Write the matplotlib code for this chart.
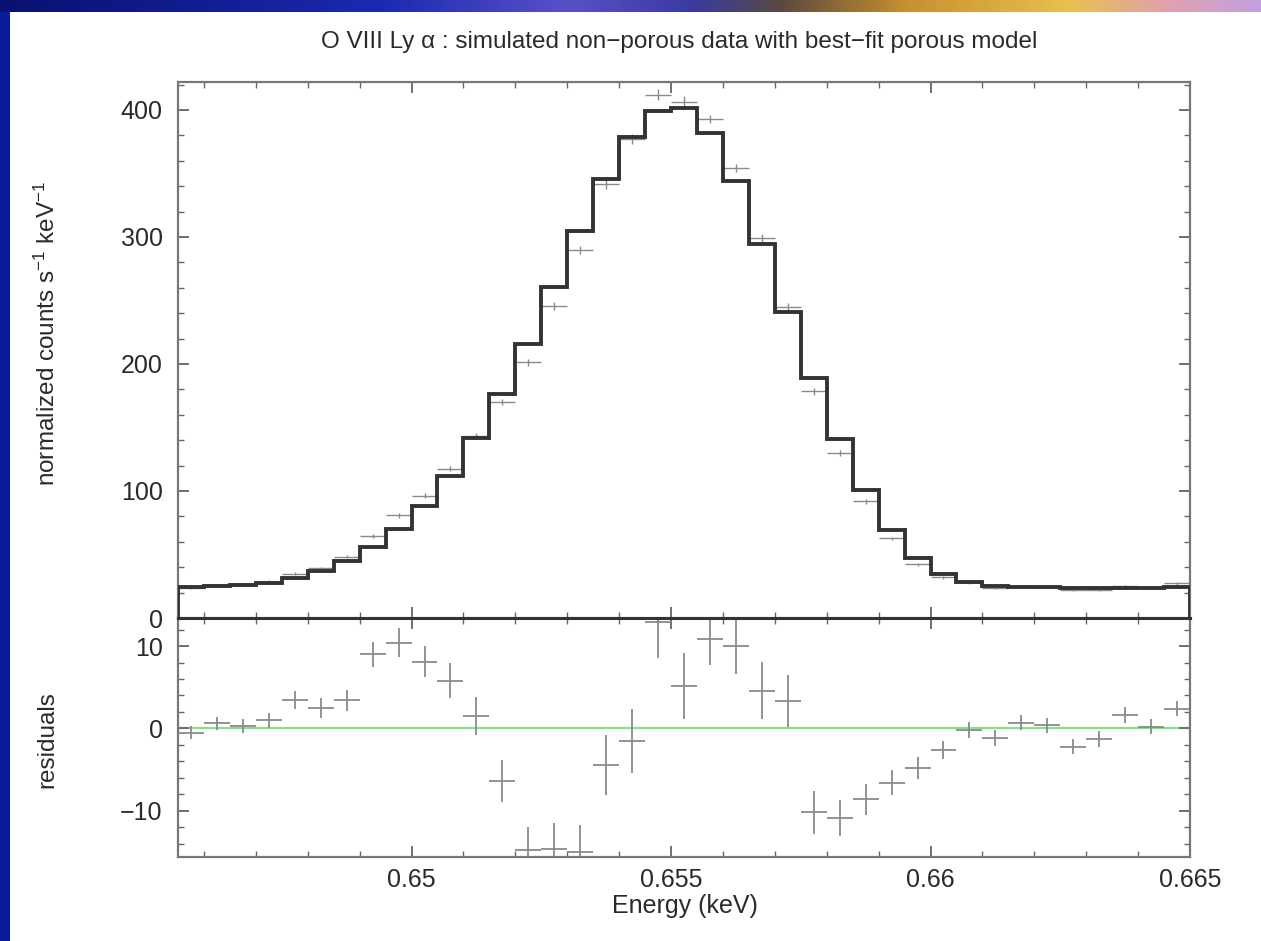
import numpy as np
import matplotlib
matplotlib.use("Agg")
import matplotlib.pyplot as plt
from matplotlib.colors import LinearSegmentedColormap
from matplotlib.patches import Rectangle
from matplotlib.ticker import MultipleLocator

plt.rcParams['font.family'] = ['Liberation Sans', 'DejaVu Sans']
plt.rcParams['mathtext.fontset'] = 'custom'
plt.rcParams['mathtext.rm'] = 'Liberation Sans'
plt.rcParams['mathtext.it'] = 'Liberation Sans:italic'

# energy grid (keV): 39 bins of 0.5 eV
BIN_START = 0.6455
BIN_WIDTH = 0.0005

# best-fit porous model, normalized counts s^-1 keV^-1 per bin
model = [24.5, 25.0, 26.0, 27.7, 31.3, 36.7, 44.9, 55.7, 70.3, 88.2,
         111.8, 141.6, 176.4, 216.0, 260.4, 304.9, 345.8, 378.9, 399.2, 401.4,
         381.6, 344.2, 294.3, 241.2, 188.8, 140.8, 100.4, 69.2, 47.2, 34.6,
         28.3, 25.0, 24.5, 24.3, 24.0, 23.6, 23.5, 24.0, 24.8]

# residuals (data - model) and their 1-sigma errors
resid = [-0.5, 0.6, 0.3, 1.0, 3.5, 2.5, 3.4, 9.0, 10.4, 8.1,
         5.8, 1.5, -6.4, -14.8, -14.6, -15.0, -4.4, -1.5, 12.9, 5.2,
         10.9, 10.0, 4.6, 3.3, -10.2, -10.9, -8.6, -6.6, -4.8, -2.6,
         -0.2, -1.2, 0.7, 0.4, -2.2, -1.3, 1.6, 0.2, 2.4]
resid_err = [0.8, 0.8, 0.8, 0.9, 1.1, 1.2, 1.3, 1.5, 1.75, 1.9,
             2.1, 2.35, 2.55, 2.9, 3.1, 3.3, 3.65, 3.9, 4.3, 4.0,
             3.15, 3.35, 3.45, 3.15, 2.64, 2.2, 1.9, 1.5, 1.28, 1.06,
             1.0, 0.95, 0.9, 0.9, 0.9, 0.95, 0.95, 0.9, 0.95]

edges = BIN_START + BIN_WIDTH * np.arange(len(model) + 1)
centers = edges[:-1] + BIN_WIDTH / 2
data = np.array(model) + np.array(resid)

W, H = 1261, 941
fig = plt.figure(figsize=(W / 100, H / 100), dpi=100, facecolor='#0b1c98')

# slide decoration: white panel and coloured strip on top
fig.add_artist(Rectangle((10 / W, 0), 1, 1 - 12 / H, transform=fig.transFigure,
                         facecolor='white', edgecolor='none', zorder=-10))
strip = LinearSegmentedColormap.from_list(
    'strip', [(0, '#0a1070'), (0.3, '#1a2ab0'), (0.45, '#5a50c8'), (0.55, '#3a3aa0'),
              (0.62, '#5a4a40'), (0.72, '#c89030'), (0.85, '#e8c050'), (0.93, '#e0a0b0'),
              (1, '#c0a0e0')])
ax_strip = fig.add_axes([0, 1 - 12 / H, 1, 12 / H])
ax_strip.imshow(np.linspace(0, 1, 256)[None, :], aspect='auto', cmap=strip)
ax_strip.axis('off')

left, right = 178 / W, 1190 / W
ax1 = fig.add_axes([left, 1 - 618 / H, right - left, (618 - 82) / H])
ax2 = fig.add_axes([left, 1 - 857 / H, right - left, (857 - 618) / H], sharex=ax1)

ax1.stairs(model, edges, color='#333333', lw=2.8, zorder=3)
ax1.errorbar(centers, data, xerr=BIN_WIDTH / 2, yerr=resid_err, fmt='none',
             ecolor='#8a8a8a', elinewidth=1.0, zorder=2)

ax2.axhline(0, color='#88e088', lw=1.6, zorder=1)
ax2.errorbar(centers, resid, xerr=BIN_WIDTH / 2, yerr=resid_err, fmt='none',
             ecolor='#8a8a8a', elinewidth=1.3, zorder=2)

ax1.set_xlim(0.6455, 0.665)
ax1.set_ylim(0, 422)
ax2.set_ylim(-15.6, 13.4)

ax1.yaxis.set_major_locator(MultipleLocator(100))
ax1.yaxis.set_minor_locator(MultipleLocator(20))
ax2.yaxis.set_major_locator(MultipleLocator(10))
ax2.yaxis.set_minor_locator(MultipleLocator(2))
ax2.xaxis.set_major_locator(MultipleLocator(0.005))
ax2.xaxis.set_minor_locator(MultipleLocator(0.001))
ax2.xaxis.set_major_formatter(plt.FuncFormatter(lambda v, p: f"{v:g}"))
ax2.yaxis.set_major_formatter(plt.FuncFormatter(lambda v, p: f"{v:g}".replace('-', '\u2212')))

for ax in (ax1, ax2):
    ax.tick_params(which='both', direction='in', top=True, right=True,
                   colors='#666666', labelcolor='#2a2a2a', labelsize=18)
    ax.tick_params(which='major', length=8, width=1.3)
    ax.tick_params(which='minor', length=4, width=1.0)
    ax.tick_params(axis='y', pad=11)
    ax.tick_params(axis='x', pad=8)
    for s in ax.spines.values():
        s.set_color('#777777')
        s.set_linewidth(1.6)
ax1.tick_params(labelbottom=False)
ax1.spines['bottom'].set_color('#333333')
ax2.spines['top'].set_color('#333333')
ax1.spines['bottom'].set_linewidth(2.2)
ax2.spines['top'].set_linewidth(2.2)

txt = dict(color='#2a2a2a')
fig.text(679 / W, 1 - 42 / H,
         "O VIII Ly \u03b1 : simulated non\u2212porous data with best\u2212fit porous model",
         ha='center', va='center', fontsize=17.5, **txt)
fig.text(47 / W, 1 - 333 / H, r"normalized counts s$^{-1}$ keV$^{-1}$",
         rotation=90, ha='center', va='center', fontsize=17.5, **txt)
fig.text(47 / W, 1 - 740 / H, "residuals",
         rotation=90, ha='center', va='center', fontsize=17.5, **txt)
fig.text(685 / W, 1 - 906 / H, "Energy (keV)",
         ha='center', va='center', fontsize=18, **txt)

fig.savefig("out.png", dpi=100, facecolor=fig.get_facecolor())
